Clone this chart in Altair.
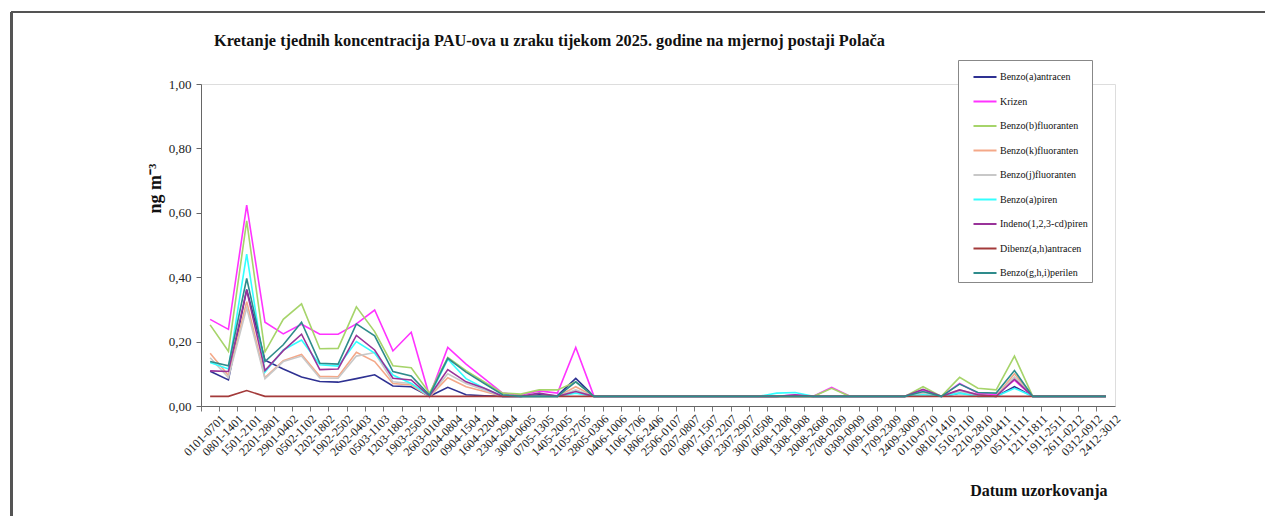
import altair as alt
import pandas as pd

weeks = ["0101-0701", "0801-1401", "1501-2101", "2201-2801", "2901-0402", "0502-1102",
         "1202-1802", "1902-2502", "2602-0403", "0503-1103", "1203-1803", "1903-2503",
         "2603-0104", "0204-0804", "0904-1504", "1604-2204", "2304-2904", "3004-0605",
         "0705-1305", "1405-2005", "2105-2705", "2805-0306", "0406-1006", "1106-1706",
         "1806-2406", "2506-0107", "0207-0807", "0907-1507", "1607-2207", "2307-2907",
         "3007-0508", "0608-1208", "1308-1908", "2008-2608", "2708-0209", "0309-0909",
         "1009-1609", "1709-2309", "2409-3009", "0110-0710", "0810-1410", "1510-2110",
         "2210-2810", "2910-0411", "0511-1111", "1211-1811", "1911-2511", "2611-0212",
         "0312-0912", "2412-3012"]

B = 0.03
benzo_a_antracen = [0.108, 0.081, 0.362, 0.142, 0.115, 0.090, 0.076, 0.074, 0.085, 0.097,
                    0.062, 0.060, 0.030, 0.058, 0.035, 0.032, B, B, 0.035, 0.032,
                    0.086, B, B, B, B, B, B, B, B, B,
                    B, B, B, B, B, B, B, B, B, 0.040,
                    B, 0.040, 0.035, B, 0.060, B, B, B, B, B]
krizen = [0.269, 0.238, 0.624, 0.260, 0.224, 0.254, 0.223, 0.223, 0.255, 0.298,
          0.171, 0.229, 0.030, 0.182, 0.130, 0.085, 0.040, 0.034, 0.047, 0.040,
          0.182, B, B, B, B, B, B, B, B, B,
          B, B, 0.035, B, 0.058, B, B, B, B, 0.050,
          B, 0.070, 0.040, 0.035, 0.080, B, B, B, B, B]
benzo_b_fluoranten = [0.252, 0.170, 0.575, 0.168, 0.269, 0.317, 0.178, 0.179, 0.308, 0.231,
                      0.125, 0.119, 0.040, 0.151, 0.110, 0.075, 0.040, 0.037, 0.050, 0.050,
                      0.075, B, B, B, B, B, B, B, B, B,
                      B, B, B, B, 0.055, B, B, B, B, 0.060,
                      B, 0.089, 0.055, 0.050, 0.155, B, B, B, B, B]
benzo_k_fluoranten = [0.164, 0.095, 0.324, 0.088, 0.141, 0.160, 0.092, 0.091, 0.167, 0.138,
                      0.070, 0.065, 0.029, 0.088, 0.060, 0.045, B, B, B, B,
                      0.060, B, B, B, B, B, B, B, B, B,
                      B, B, B, B, B, B, B, B, B, 0.040,
                      B, 0.050, 0.035, B, 0.100, B, B, B, B, B]
benzo_j_fluoranten = [0.150, 0.088, 0.305, 0.085, 0.138, 0.155, 0.087, 0.086, 0.155, 0.166,
                      0.075, 0.070, 0.030, 0.100, 0.070, 0.050, B, B, B, B,
                      0.050, B, B, B, B, B, B, B, B, B,
                      B, B, B, B, B, B, B, B, B, 0.040,
                      B, 0.045, B, B, 0.090, B, B, B, B, B]
benzo_a_piren = [0.135, 0.115, 0.472, 0.105, 0.174, 0.205, 0.128, 0.124, 0.200, 0.164,
                 0.096, 0.070, 0.031, 0.145, 0.085, 0.055, B, B, B, B,
                 0.040, B, B, B, B, B, B, B, B, B,
                 B, 0.040, 0.042, B, B, B, B, B, B, 0.035,
                 B, 0.040, B, B, 0.055, B, B, B, B, B]
indeno_piren = [0.109, 0.107, 0.360, 0.110, 0.172, 0.223, 0.113, 0.115, 0.219, 0.174,
                0.086, 0.081, 0.031, 0.113, 0.075, 0.055, B, B, 0.040, B,
                0.045, B, B, B, B, B, B, B, B, B,
                B, B, 0.034, B, B, B, B, B, B, 0.052,
                B, 0.050, 0.035, B, 0.083, B, B, B, B, B]
dibenz_antracen = [B, B, 0.048, B, B, B, B, B, B, B,
                   B, B, B, B, B, B, B, B, B, B,
                   B, B, B, B, B, B, B, B, B, B,
                   B, B, B, B, B, B, B, B, B, B,
                   B, B, B, B, B, B, B, B, B, B]
benzo_ghi_perilen = [0.138, 0.125, 0.396, 0.138, 0.190, 0.260, 0.133, 0.130, 0.255, 0.218,
                     0.107, 0.093, 0.034, 0.148, 0.105, 0.070, 0.035, B, B, B,
                     0.075, B, B, B, B, B, B, B, B, B,
                     B, B, B, B, B, B, B, B, B, 0.045,
                     B, 0.068, 0.042, 0.040, 0.110, B, B, B, B, B]

series_names = ["Benzo(a)antracen", "Krizen", "Benzo(b)fluoranten", "Benzo(k)fluoranten",
                "Benzo(j)fluoranten", "Benzo(a)piren", "Indeno(1,2,3-cd)piren",
                "Dibenz(a,h)antracen", "Benzo(g,h,i)perilen"]
series_values = [benzo_a_antracen, krizen, benzo_b_fluoranten, benzo_k_fluoranten,
                 benzo_j_fluoranten, benzo_a_piren, indeno_piren, dibenz_antracen,
                 benzo_ghi_perilen]
series_colors = ["#2E3192", "#FF33FF", "#A6D46A", "#F4A888", "#C8C8C8", "#33FFFF",
                 "#993399", "#A33A3A", "#2E8B8B"]

rows = []
for name, vals in zip(series_names, series_values):
    for w, v in zip(weeks, vals):
        rows.append({"tjedan": w, "spoj": name, "vrijednost": v})
df = pd.DataFrame(rows)

FONT = "Liberation Serif"
color_scale = alt.Scale(domain=series_names, range=series_colors)

x_enc = alt.X("tjedan:N", sort=weeks, bandPosition=0.5,
              scale=alt.Scale(type="band", paddingInner=0, paddingOuter=0),
              axis=alt.Axis(title="Datum uzorkovanja", labelAngle=-45, bandPosition=0,
                            labelOffset=9.14, labelFontSize=12, labelFont=FONT,
                            labelColor="#222222", labelPadding=2, tickSize=5,
                            tickColor="#777777", domainColor="#666666",
                            titleFont=FONT, titleFontSize=16, titleFontWeight="bold",
                            titleColor="#111111", titleAnchor="end", titleAlign="right",
                            titleX=906, titleY=84, titleBaseline="middle"))
y_enc = alt.Y("vrijednost:Q",
              scale=alt.Scale(domain=[0, 1]),
              axis=alt.Axis(title="ng m⁻³", values=[0, 0.2, 0.4, 0.6, 0.8, 1.0],
                            labelExpr="replace(format(datum.value, '.2f'), '.', ',')",
                            grid=False, labelFontSize=13, labelFont=FONT,
                            labelColor="#222222", tickSize=5, labelPadding=5,
                            tickColor="#666666", domainColor="#666666",
                            titleFont=FONT, titleFontSize=18, titleFontWeight="bold",
                            titleColor="#111111", titleX=-37, titleY=104))

layers = []
for name in series_names:
    layers.append(
        alt.Chart(df).transform_filter(alt.datum.spoj == name)
        .mark_line(strokeWidth=1.6)
        .encode(x=x_enc, y=y_enc,
                color=alt.Color("spoj:N", scale=color_scale,
                                legend=alt.Legend(title=None, orient="none",
                                                  legendX=757, legendY=-24,
                                                  symbolType="stroke", symbolSize=530,
                                                  symbolStrokeWidth=2, symbolOffset=10,
                                                  labelFont=FONT, labelFontSize=10,
                                                  labelColor="#111111", labelOffset=2,
                                                  rowPadding=6.5, padding=4,
                                                  strokeColor="#888888",
                                                  fillColor="white", labelLimit=200)))
    )

frame_top = alt.Chart(df).mark_rule(color="#555555", strokeWidth=1.5).encode(
    x=alt.value(-189.5), x2=alt.value(1067), y=alt.value(-72))
frame_left = alt.Chart(df).mark_rule(color="#555555", strokeWidth=1.5).encode(
    x=alt.value(-189.5), y=alt.value(-72), y2=alt.value(460))

chart = alt.layer(*layers, frame_top, frame_left).properties(
    width=914, height=322,
    title=alt.TitleParams(
        "Kretanje tjednih koncentracija PAU-ova u zraku tijekom 2025. godine na mjernoj postaji Polača",
        font=FONT, fontSize=16.3, fontWeight="bold", color="#111111",
        anchor="start", frame="group", dx=13, offset=-38),
    autosize=alt.AutoSizeParams(type="none"),
    padding={"left": 193, "top": 76, "right": 150, "bottom": 110},
).configure_view(stroke="transparent", strokeWidth=0).configure(background="white")

chart.save("out.html", embed_options={"renderer": "svg", "actions": False})
